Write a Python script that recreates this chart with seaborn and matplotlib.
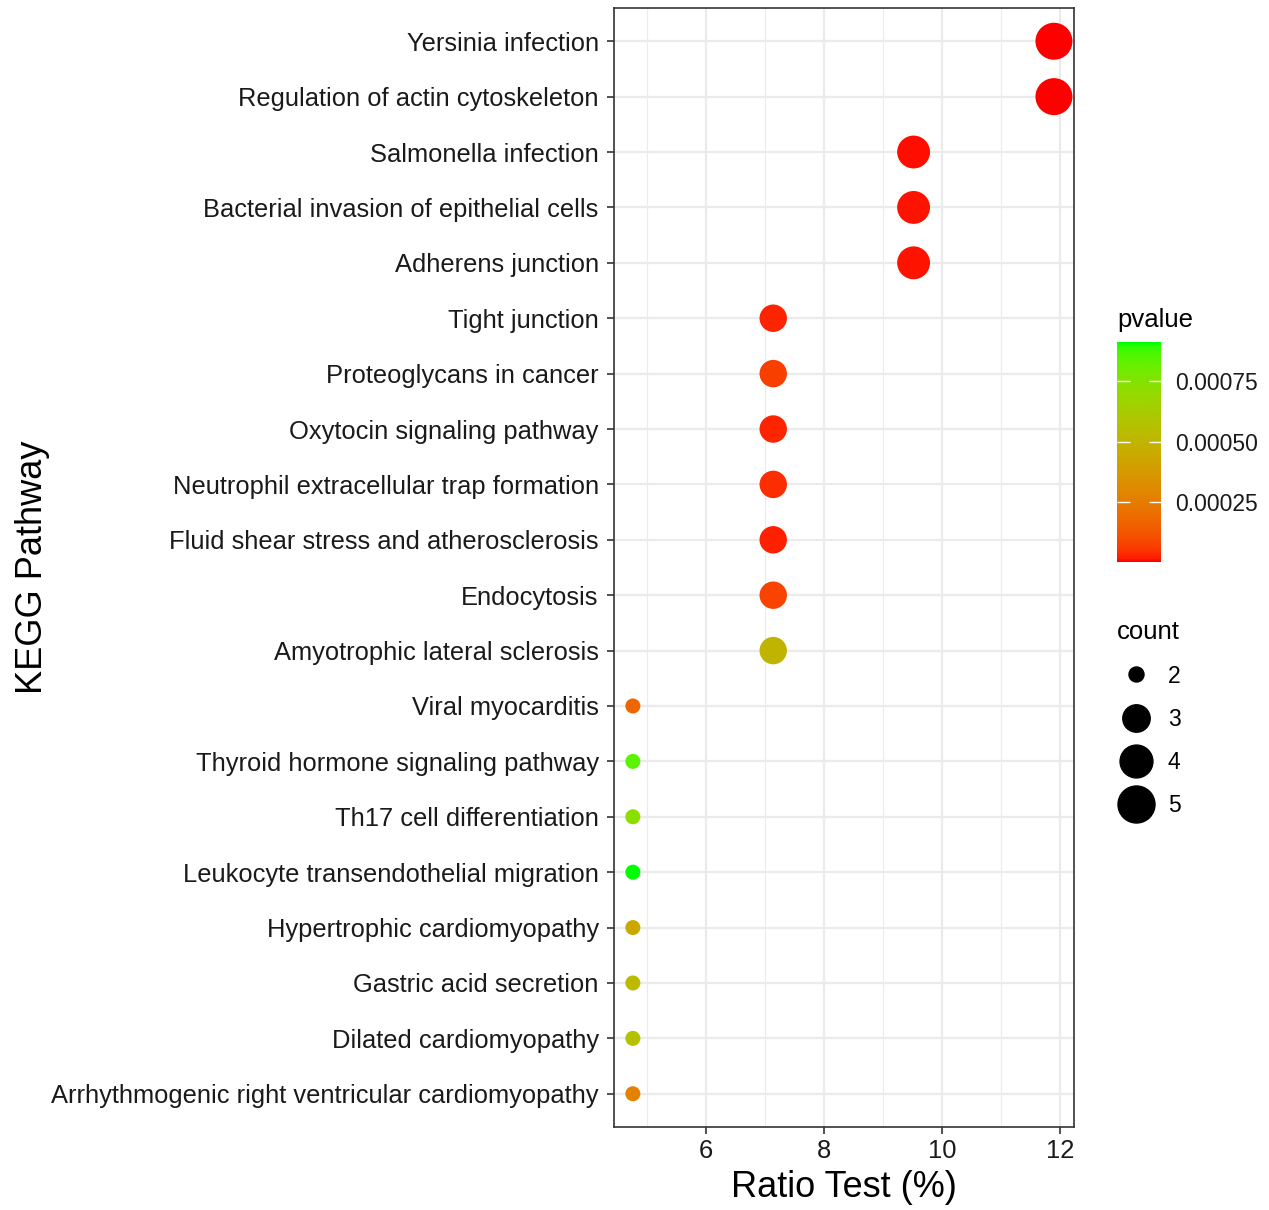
import numpy as np
import pandas as pd
import matplotlib
matplotlib.use("Agg")
import matplotlib.pyplot as plt
import seaborn as sns
from matplotlib.colors import LinearSegmentedColormap, Normalize
from matplotlib.lines import Line2D
from matplotlib.ticker import FormatStrFormatter, MultipleLocator

# KEGG 富集结果
pathways = [
    "Yersinia infection",
    "Regulation of actin cytoskeleton",
    "Salmonella infection",
    "Bacterial invasion of epithelial cells",
    "Adherens junction",
    "Tight junction",
    "Proteoglycans in cancer",
    "Oxytocin signaling pathway",
    "Neutrophil extracellular trap formation",
    "Fluid shear stress and atherosclerosis",
    "Endocytosis",
    "Amyotrophic lateral sclerosis",
    "Viral myocarditis",
    "Thyroid hormone signaling pathway",
    "Th17 cell differentiation",
    "Leukocyte transendothelial migration",
    "Hypertrophic cardiomyopathy",
    "Gastric acid secretion",
    "Dilated cardiomyopathy",
    "Arrhythmogenic right ventricular cardiomyopathy",
]
ratio = [11.90, 11.90, 9.52, 9.52, 9.52, 7.14, 7.14, 7.14, 7.14, 7.14, 7.14, 7.14,
         4.76, 4.76, 4.76, 4.76, 4.76, 4.76, 4.76, 4.76]
count = [5, 5, 4, 4, 4, 3, 3, 3, 3, 3, 3, 3, 2, 2, 2, 2, 2, 2, 2, 2]
pvalue = [1.5e-6, 2.5e-6, 1.0e-5, 1.4e-5, 1.4e-5, 2.8e-5, 7.0e-5, 2.8e-5, 3.8e-5, 2.6e-5,
          8.0e-5, 5.0e-4, 1.7e-4, 8.4e-4, 7.3e-4, 9.12e-4, 4.4e-4, 5.3e-4, 5.7e-4, 2.7e-4]

df = pd.DataFrame({"pathway": pathways, "ratio": ratio, "count": count, "pvalue": pvalue})


# red -> green gradient interpolated in Lab, like ggplot2
def srgb_to_lab(rgb):
    rgb = np.asarray(rgb, dtype=float)
    lin = np.where(rgb <= 0.04045, rgb / 12.92, ((rgb + 0.055) / 1.055) ** 2.4)
    m = np.array([[0.4124, 0.3576, 0.1805], [0.2126, 0.7152, 0.0722], [0.0193, 0.1192, 0.9505]])
    xyz = lin @ m.T / np.array([0.95047, 1.0, 1.08883])
    f = np.where(xyz > 0.008856, np.cbrt(xyz), 7.787 * xyz + 16 / 116)
    return np.array([116 * f[1] - 16, 500 * (f[0] - f[1]), 200 * (f[1] - f[2])])


def lab_to_srgb(lab):
    L, a, b = lab
    fy = (L + 16) / 116
    fx = fy + a / 500
    fz = fy - b / 200
    f = np.array([fx, fy, fz])
    xyz = np.where(f ** 3 > 0.008856, f ** 3, (f - 16 / 116) / 7.787) * np.array([0.95047, 1.0, 1.08883])
    m = np.array([[3.2406, -1.5372, -0.4986], [-0.9689, 1.8758, 0.0415], [0.0557, -0.2040, 1.0570]])
    lin = m @ xyz
    rgb = np.where(lin <= 0.0031308, 12.92 * lin, 1.055 * np.clip(lin, 0, None) ** (1 / 2.4) - 0.055)
    return np.clip(rgb, 0, 1)


lab_lo = srgb_to_lab([1, 0, 0])
lab_hi = srgb_to_lab([0, 1, 0])
cols = [lab_to_srgb(lab_lo + t * (lab_hi - lab_lo)) for t in np.linspace(0, 1, 64)]
cmap = LinearSegmentedColormap.from_list("red_green", cols)
norm = Normalize(vmin=min(pvalue), vmax=max(pvalue))

plt.rcParams["font.family"] = ["Liberation Sans", "DejaVu Sans"]

fig = plt.figure(figsize=(12.69, 12.10), dpi=100)
ax = fig.add_axes([614 / 1269, 83 / 1210, 460 / 1269, 1119 / 1210])

size_map = {2: 117, 3: 390, 4: 560, 5: 710}
sns.scatterplot(data=df, x="ratio", y="pathway", hue="pvalue", palette=cmap, hue_norm=norm,
                size="count", sizes=size_map, linewidth=0, legend=False, ax=ax, zorder=3)

n = len(pathways)
ax.set_ylim(n - 1 + 0.6, -0.6)
ax.set_xlim(4.44, 12.24)
ax.xaxis.set_major_locator(MultipleLocator(2))
ax.xaxis.set_minor_locator(MultipleLocator(1))
ax.grid(which="major", color="#EBEBEB", linewidth=1.6, zorder=0)
ax.grid(which="minor", axis="x", color="#EBEBEB", linewidth=0.8, zorder=0)
ax.set_axisbelow(True)
for sp in ax.spines.values():
    sp.set_color("#333333")
    sp.set_linewidth(1.2)
ax.tick_params(axis="both", which="major", length=5, width=1.2, color="#333333",
               labelsize=18.4, labelcolor="#1a1a1a")
ax.tick_params(axis="y", pad=6)
ax.tick_params(axis="x", pad=4)
ax.tick_params(axis="x", which="minor", length=0)
ax.set_xlabel("Ratio Test (%)", fontsize=26, labelpad=5)
ax.set_ylabel("KEGG Pathway", fontsize=26, labelpad=1)

# colour bar
cax = fig.add_axes([1117 / 1269, 648 / 1210, 44 / 1269, 220 / 1210])
sm = plt.cm.ScalarMappable(norm=norm, cmap=cmap)
cbar = fig.colorbar(sm, cax=cax, ticks=[0.00025, 0.0005, 0.00075])
cbar.outline.set_visible(False)
cbar.ax.yaxis.set_major_formatter(FormatStrFormatter("%.5f"))
cbar.ax.yaxis.set_ticks_position("both")
cbar.ax.tick_params(direction="in", length=9, width=1, color="white", labelsize=16.5,
                    labelcolor="#1a1a1a", pad=10, labelleft=False, labelright=True)
cbar.ax.set_title("pvalue", loc="left", fontsize=18.5, pad=11)

# size legend
handles = [Line2D([], [], marker="o", linestyle="", color="black", markersize=np.sqrt(size_map[c]))
           for c in [2, 3, 4, 5]]
fig.legend(handles, ["2", "3", "4", "5"], title="count", loc="upper left",
           bbox_to_anchor=(1099 / 1269, 1 - 602 / 1210), frameon=False, fontsize=16.5,
           title_fontsize=18.5, labelspacing=0.88, handlelength=1.6, handletextpad=0.6,
           borderpad=0.3, alignment="left")

fig.savefig("out.png", dpi=100)
